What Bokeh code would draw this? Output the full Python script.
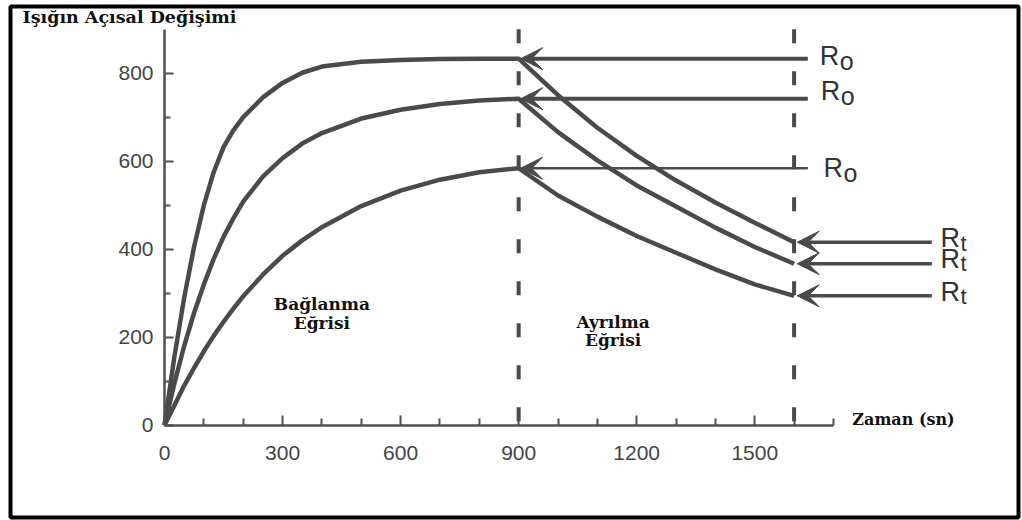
from bokeh.plotting import figure
from bokeh.models import Range1d, Arrow, VeeHead, Label, FixedTicker
from bokeh.embed import file_html
from bokeh.resources import INLINE

# ---- data ----
t_assoc = [0, 25, 50, 75, 100, 125, 150, 175, 200, 250, 300, 350, 400, 500, 600, 700, 800, 900]
high_assoc = [0, 155, 290, 405, 500, 575, 632, 670, 700, 745, 778, 801, 815, 826, 830, 832, 833, 833]
mid_assoc = [0, 95, 180, 255, 320, 378, 428, 470, 508, 565, 607, 640, 664, 697, 717, 730, 738, 742]
low_assoc = [0, 45, 90, 130, 168, 203, 235, 265, 293, 342, 385, 420, 450, 498, 533, 558, 575, 584]

t_dissoc = [900, 1000, 1100, 1200, 1300, 1400, 1500, 1600]
high_dissoc = [833, 750, 676, 612, 556, 506, 460, 416]
mid_dissoc = [742, 666, 602, 545, 497, 449, 405, 367]
low_dissoc = [584, 522, 474, 430, 392, 354, 320, 294]

phase_times = [900, 1600]
x_ticks = [0, 300, 600, 900, 1200, 1500]
x_minor = [100, 200, 400, 500, 700, 800, 1000, 1100, 1300, 1400, 1600, 1700]
y_ticks = [0, 200, 400, 600, 800]
y_minor = [100, 300, 500, 700]

title_text = "Işığın Açısal Değişimi"
x_title = "Zaman (sn)"
phase_names = [["Bağlanma", "Eğrisi"], ["Ayrılma", "Eğrisi"]]

INK = "#4a4a4a"

# frame covers the whole boxed area; axes are pinned at 0 inside it
p = figure(width=1022, height=520, output_backend="svg", toolbar_location=None,
           x_range=Range1d(-391.4, 2170.3), y_range=Range1d(-209.8, 951.6),
           min_border_left=10, min_border_right=4, min_border_top=6, min_border_bottom=3)
p.grid.visible = False
p.outline_line_color = "black"
p.outline_line_width = 4
p.outline_line_alpha = 1
p.background_fill_color = "white"
p.border_fill_color = "white"

for ax in (p.xaxis, p.yaxis):
    ax.fixed_location = 0
    ax.axis_line_color = "#505050"
    ax.axis_line_width = 2.5
    ax.major_tick_line_color = "#505050"
    ax.minor_tick_line_color = "#505050"
    ax.major_tick_line_width = 2
    ax.minor_tick_line_width = 2
    ax.major_tick_out = 0
    ax.minor_tick_out = 0
    ax.major_label_text_font = "Liberation Sans"
    ax.major_label_text_font_size = "21px"
    ax.major_label_text_color = "#444444"

p.xaxis.bounds = (0, 1700)
p.xaxis.ticker = FixedTicker(ticks=x_ticks, minor_ticks=x_minor)
p.xaxis.major_tick_in = 10
p.xaxis.minor_tick_in = 7
p.xaxis.major_label_standoff = 21

p.yaxis.bounds = (0, 900)
p.yaxis.ticker = FixedTicker(ticks=y_ticks, minor_ticks=y_minor)
p.yaxis.major_tick_in = 9
p.yaxis.minor_tick_in = 6
p.yaxis.major_label_standoff = 11

# curves
for a, d in ((high_assoc, high_dissoc), (mid_assoc, mid_dissoc), (low_assoc, low_dissoc)):
    p.line(t_assoc + t_dissoc[1:], a + d[1:], line_color=INK, line_width=4.5, line_join="round")

# dashed phase markers
p.segment(x0=phase_times, y0=[900] * len(phase_times), x1=phase_times, y1=[0] * len(phase_times),
          line_color=INK, line_width=4, line_dash="14 28")

# R0 and Rt arrows
peaks = [high_assoc[-1], mid_assoc[-1], low_assoc[-1]]
ends = [high_dissoc[-1], mid_dissoc[-1], low_dissoc[-1]]
ro_widths = [4, 4, 2.5]
for pk, w in zip(peaks, ro_widths):
    p.add_layout(Arrow(x_start=1635, y_start=pk, x_end=905, y_end=pk, line_color=INK, line_width=w,
                       end=VeeHead(size=22, fill_color=INK, line_color=INK, line_width=1)))
for e in ends:
    p.add_layout(Arrow(x_start=1950, y_start=e, x_end=1608, y_end=e, line_color=INK, line_width=3.5,
                       end=VeeHead(size=22, fill_color=INK, line_color=INK, line_width=1)))

# labels R0 / Rt
ro_x = [1665, 1668, 1675]
ro_dy = [3, 8, 0]
for pk, x, dy in zip(peaks, ro_x, ro_dy):
    p.add_layout(Label(x=x, y=pk, y_offset=dy, text="R", text_font="Liberation Sans", text_font_size="27px",
                       text_baseline="middle", text_color="#333333"))
    p.add_layout(Label(x=x, y=pk, x_offset=20, y_offset=dy - 5, text="o", text_font="Liberation Sans",
                       text_font_size="25px", text_baseline="middle", text_color="#333333"))
rt_dy = [4, 5, 4]
for e, dy in zip(ends, rt_dy):
    p.add_layout(Label(x=1972, y=e, y_offset=dy, text="R", text_font="Liberation Sans", text_font_size="27px",
                       text_baseline="middle", text_color="#333333"))
    p.add_layout(Label(x=1972, y=e, x_offset=20, y_offset=dy - 5, text="t", text_font="Liberation Sans",
                       text_font_size="22px", text_baseline="middle", text_color="#333333"))

# texts
serif = dict(text_font="DejaVu Serif", text_font_style="bold", text_color="#111111", text_baseline="middle")
for (l1, l2), (x, y1, y2) in zip(phase_names, [(400, 276, 232), (1140, 234, 193)]):
    p.add_layout(Label(x=x, y=y1, text=l1, text_align="center", text_font_size="17px", **serif))
    p.add_layout(Label(x=x, y=y2, text=l2, text_align="center", text_font_size="17px", **serif))

p.add_layout(Label(x=1748, y=12, text=x_title, text_font_size="16px", **serif))
p.add_layout(Label(x=-361, y=927, text=title_text, text_font_size="17.5px", **serif))

open("out.html", "w").write(file_html(p, INLINE))
